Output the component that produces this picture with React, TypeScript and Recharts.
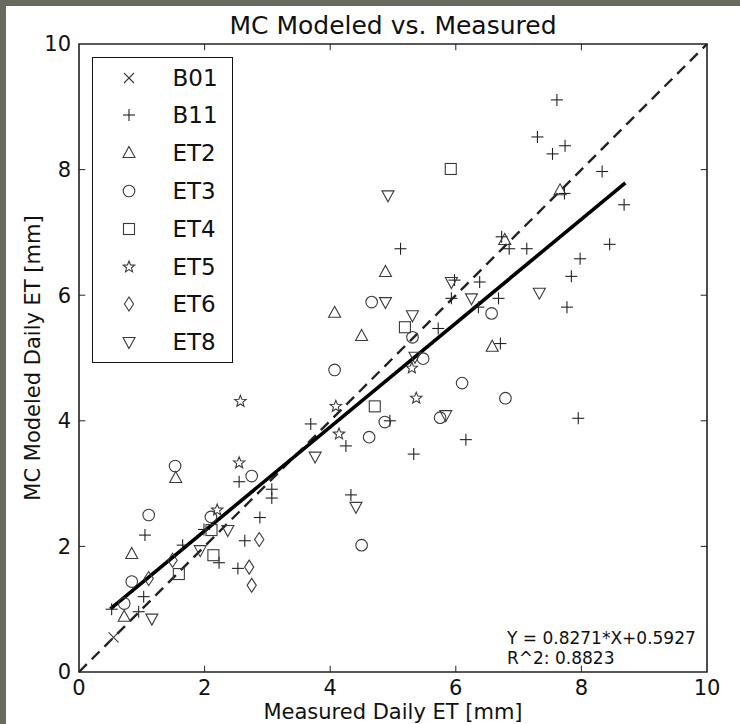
import React from 'react';
import { ScatterChart, Scatter, XAxis, YAxis, ReferenceLine, ReferenceArea, Legend, Label } from 'recharts';

const FONT = '"DejaVu Sans", "Liberation Sans", sans-serif';

const chartTitle = 'MC Modeled vs. Measured';
const xAxisTitle = 'Measured Daily ET [mm]';
const yAxisTitle = 'MC Modeled Daily ET [mm]';
const axisTicks = [0, 2, 4, 6, 8, 10];
const innerTicks = [2, 4, 6, 8];

const fitSlope = 0.8271;
const fitIntercept = 0.5927;
const fitRange = [0.5, 8.7];
const fitText = 'Y = 0.8271*X+0.5927';
const r2Text = 'R^2: 0.8823';

const b01Points: [number, number][] = [[0.55, 0.55]];
const b11Points: [number, number][] = [
  [0.52, 1.0], [0.95, 0.96], [1.03, 1.2], [1.05, 2.18], [1.65, 2.02], [1.99, 2.27],
  [2.23, 1.74], [2.53, 1.65], [2.64, 2.09], [2.88, 2.46], [2.55, 3.03], [3.07, 2.91],
  [3.07, 2.77], [3.69, 3.95], [4.25, 3.6], [4.33, 2.82], [4.95, 4.0], [5.33, 3.47],
  [6.16, 3.7], [5.12, 6.74], [5.72, 5.47], [5.98, 6.24], [5.93, 5.95], [6.38, 6.21],
  [6.68, 5.95], [6.36, 5.81], [6.71, 5.23], [6.73, 6.93], [6.85, 6.74], [7.13, 6.74],
  [7.3, 8.52], [7.54, 8.25], [7.61, 9.11], [7.74, 8.38], [8.33, 7.97], [7.73, 7.62],
  [8.68, 7.44], [8.45, 6.81], [7.98, 6.58], [7.84, 6.3], [7.77, 5.81], [7.95, 4.04],
];
const et2Points: [number, number][] = [
  [0.72, 0.88], [0.84, 1.88], [1.54, 3.09], [4.07, 5.72], [4.5, 5.35], [4.88, 6.37],
  [6.58, 5.18], [6.78, 6.88], [7.66, 7.67],
];
const et3Points: [number, number][] = [
  [0.72, 1.09], [0.84, 1.44], [1.11, 2.5], [1.53, 3.28], [2.1, 2.47], [2.75, 3.12],
  [4.07, 4.81], [4.5, 2.02], [4.62, 3.74], [4.66, 5.89], [4.87, 3.98], [5.31, 5.33],
  [5.48, 4.99], [5.75, 4.05], [6.1, 4.6], [6.57, 5.71], [6.79, 4.36],
];
const et4Points: [number, number][] = [
  [1.59, 1.56], [2.14, 1.86], [2.11, 2.26], [4.71, 4.23], [5.19, 5.49], [5.92, 8.01],
];
const et5Points: [number, number][] = [
  [2.2, 2.58], [2.55, 3.33], [2.57, 4.31], [4.09, 4.23], [4.14, 3.79], [5.3, 4.84], [5.37, 4.36],
];
const et6Points: [number, number][] = [
  [1.11, 1.49], [1.49, 1.78], [2.71, 1.67], [2.75, 1.38], [2.87, 2.11],
];
const et8Points: [number, number][] = [
  [1.16, 0.85], [1.93, 1.94], [2.37, 2.26], [3.76, 3.43], [4.41, 2.63], [4.88, 5.89],
  [4.92, 7.59], [5.31, 5.68], [5.35, 5.02], [5.84, 4.09], [5.93, 6.21], [6.25, 5.95], [7.33, 6.04],
];

const seriesNames = ['B01', 'B11', 'ET2', 'ET3', 'ET4', 'ET5', 'ET6', 'ET8'];
const seriesMarkers = ['cross', 'plus', 'triUp', 'circle', 'square', 'star', 'diamond', 'triDown'];
const seriesPoints = [b01Points, b11Points, et2Points, et3Points, et4Points, et5Points, et6Points, et8Points];

const MARK = '#3a3a3a';

function Glyph({ kind, cx, cy }: { kind: string; cx: number; cy: number }) {
  const common = { fill: 'none', stroke: MARK, strokeWidth: 1.1 };
  switch (kind) {
    case 'cross':
      return (
        <g {...common}>
          <line x1={cx - 5} y1={cy - 5} x2={cx + 5} y2={cy + 5} />
          <line x1={cx - 5} y1={cy + 5} x2={cx + 5} y2={cy - 5} />
        </g>
      );
    case 'plus':
      return (
        <g {...common} stroke="#222">
          <line x1={cx - 6} y1={cy} x2={cx + 6} y2={cy} />
          <line x1={cx} y1={cy - 6} x2={cx} y2={cy + 6} />
        </g>
      );
    case 'triUp':
      return <polygon {...common} points={`${cx},${cy - 6.5} ${cx + 6},${cy + 4.5} ${cx - 6},${cy + 4.5}`} />;
    case 'triDown':
      return <polygon {...common} points={`${cx},${cy + 6.5} ${cx + 6},${cy - 4.5} ${cx - 6},${cy - 4.5}`} />;
    case 'circle':
      return <circle {...common} cx={cx} cy={cy} r={5.8} />;
    case 'square':
      return <rect {...common} x={cx - 5.5} y={cy - 5.5} width={11} height={11} />;
    case 'diamond':
      return <polygon {...common} points={`${cx},${cy - 7} ${cx + 4.6},${cy} ${cx},${cy + 7} ${cx - 4.6},${cy}`} />;
    case 'star': {
      const pts: string[] = [];
      for (let i = 0; i < 10; i++) {
        const r = i % 2 === 0 ? 6 : 2.6;
        const a = -Math.PI / 2 + (i * Math.PI) / 5;
        pts.push(`${cx + r * Math.cos(a)},${cy + r * Math.sin(a)}`);
      }
      return <polygon {...common} points={pts.join(' ')} />;
    }
    default:
      return null;
  }
}

const renderLegend = () => (
  <div
    style={{
      width: 141,
      height: 306,
      border: '1.5px solid #111',
      background: '#fff',
      boxSizing: 'border-box',
      position: 'relative',
      fontFamily: FONT,
    }}
  >
    {seriesNames.map((name, i) => {
      const cy = 19.5 + i * 37.8;
      return (
        <React.Fragment key={name}>
          <svg
            width={20}
            height={20}
            style={{ position: 'absolute', left: 25.5, top: cy - 10, overflow: 'visible' }}
          >
            <Glyph kind={seriesMarkers[i]} cx={10} cy={10} />
          </svg>
          <div
            style={{
              position: 'absolute',
              left: 79.5,
              top: cy - 15,
              height: 30,
              lineHeight: '30px',
              fontSize: 23,
              color: '#111',
              whiteSpace: 'nowrap',
            }}
          >
            {name}
          </div>
        </React.Fragment>
      );
    })}
  </div>
);

const fitY = (x: number) => fitSlope * x + fitIntercept;

export default function App() {
  const tickStyle = { fill: '#111', fontSize: 21, fontFamily: FONT };
  return (
    <div
      style={{
        position: 'absolute',
        left: 0,
        top: 0,
        width: 740,
        height: 724,
        background: '#696a5e',
        overflow: 'hidden',
      }}
    >
      <div style={{ position: 'absolute', left: 6, top: 6, width: 740, height: 724, background: '#fff' }} />
      <div style={{ position: 'absolute', left: 0, top: 0 }}>
        <ScatterChart width={740} height={724} margin={{ top: 44, right: 33, bottom: 0, left: 19 }}>
          <XAxis
            type="number"
            dataKey="x"
            domain={[0, 10]}
            ticks={axisTicks}
            allowDataOverflow
            height={52}
            tickLine={false}
            axisLine={false}
            tick={tickStyle}
            interval={0}
          >
            <Label
              value={xAxisTitle}
              position="insideBottom"
              offset={5}
              style={{ fill: '#111', fontSize: 21, fontFamily: FONT }}
            />
          </XAxis>
          <YAxis
            type="number"
            dataKey="y"
            domain={[0, 10]}
            ticks={axisTicks}
            allowDataOverflow
            width={60}
            tickLine={false}
            axisLine={false}
            tick={tickStyle}
            interval={0}
          >
            <Label
              value={yAxisTitle}
              angle={-90}
              position="insideLeft"
              offset={14}
              style={{ fill: '#111', fontSize: 21, fontFamily: FONT, textAnchor: 'middle' }}
            />
          </YAxis>
          {seriesNames.map((name, i) => (
            <Scatter
              key={name}
              name={name}
              data={seriesPoints[i].map(([x, y]) => ({ x, y }))}
              isAnimationActive={false}
              shape={(p: any) => <Glyph kind={seriesMarkers[i]} cx={p.cx} cy={p.cy} />}
            />
          ))}
          <ReferenceLine
            segment={[{ x: 0, y: 0 }, { x: 10, y: 10 }]}
            stroke="#222"
            strokeWidth={2.4}
            strokeDasharray="11 7"
            ifOverflow="visible"
          />
          <ReferenceLine
            segment={[
              { x: fitRange[0], y: fitY(fitRange[0]) },
              { x: fitRange[1], y: fitY(fitRange[1]) },
            ]}
            stroke="#000"
            strokeWidth={3.6}
            ifOverflow="visible"
          />
          {innerTicks.map((t) => (
            <ReferenceLine key={`b${t}`} segment={[{ x: t, y: 0 }, { x: t, y: 0.1 }]} stroke="#222" strokeWidth={1} />
          ))}
          {innerTicks.map((t) => (
            <ReferenceLine key={`t${t}`} segment={[{ x: t, y: 10 }, { x: t, y: 9.9 }]} stroke="#222" strokeWidth={1} />
          ))}
          {innerTicks.map((t) => (
            <ReferenceLine key={`l${t}`} segment={[{ x: 0, y: t }, { x: 0.1, y: t }]} stroke="#222" strokeWidth={1} />
          ))}
          {innerTicks.map((t) => (
            <ReferenceLine key={`r${t}`} segment={[{ x: 10, y: t }, { x: 9.9, y: t }]} stroke="#222" strokeWidth={1} />
          ))}
          <ReferenceArea x1={0} x2={10} y1={0} y2={10} fill="none" stroke="#222" strokeWidth={1.6} ifOverflow="visible" />
          <Legend
            layout="vertical"
            align="center"
            verticalAlign="middle"
            content={renderLegend}
            wrapperStyle={{ position: 'absolute', left: 92, top: 57, width: 141, height: 306 }}
          />
        </ScatterChart>
      </div>
      <svg width={740} height={724} style={{ position: 'absolute', left: 0, top: 0, pointerEvents: 'none' }}>
        <text x={393} y={34} textAnchor="middle" fontFamily={FONT} fontSize={25} fill="#111">
          {chartTitle}
        </text>
        <text x={507} y={644} fontFamily={FONT} fontSize={17} fill="#111">
          {fitText}
        </text>
        <text x={507} y={664} fontFamily={FONT} fontSize={17} fill="#111">
          {r2Text}
        </text>
      </svg>
    </div>
  );
}
